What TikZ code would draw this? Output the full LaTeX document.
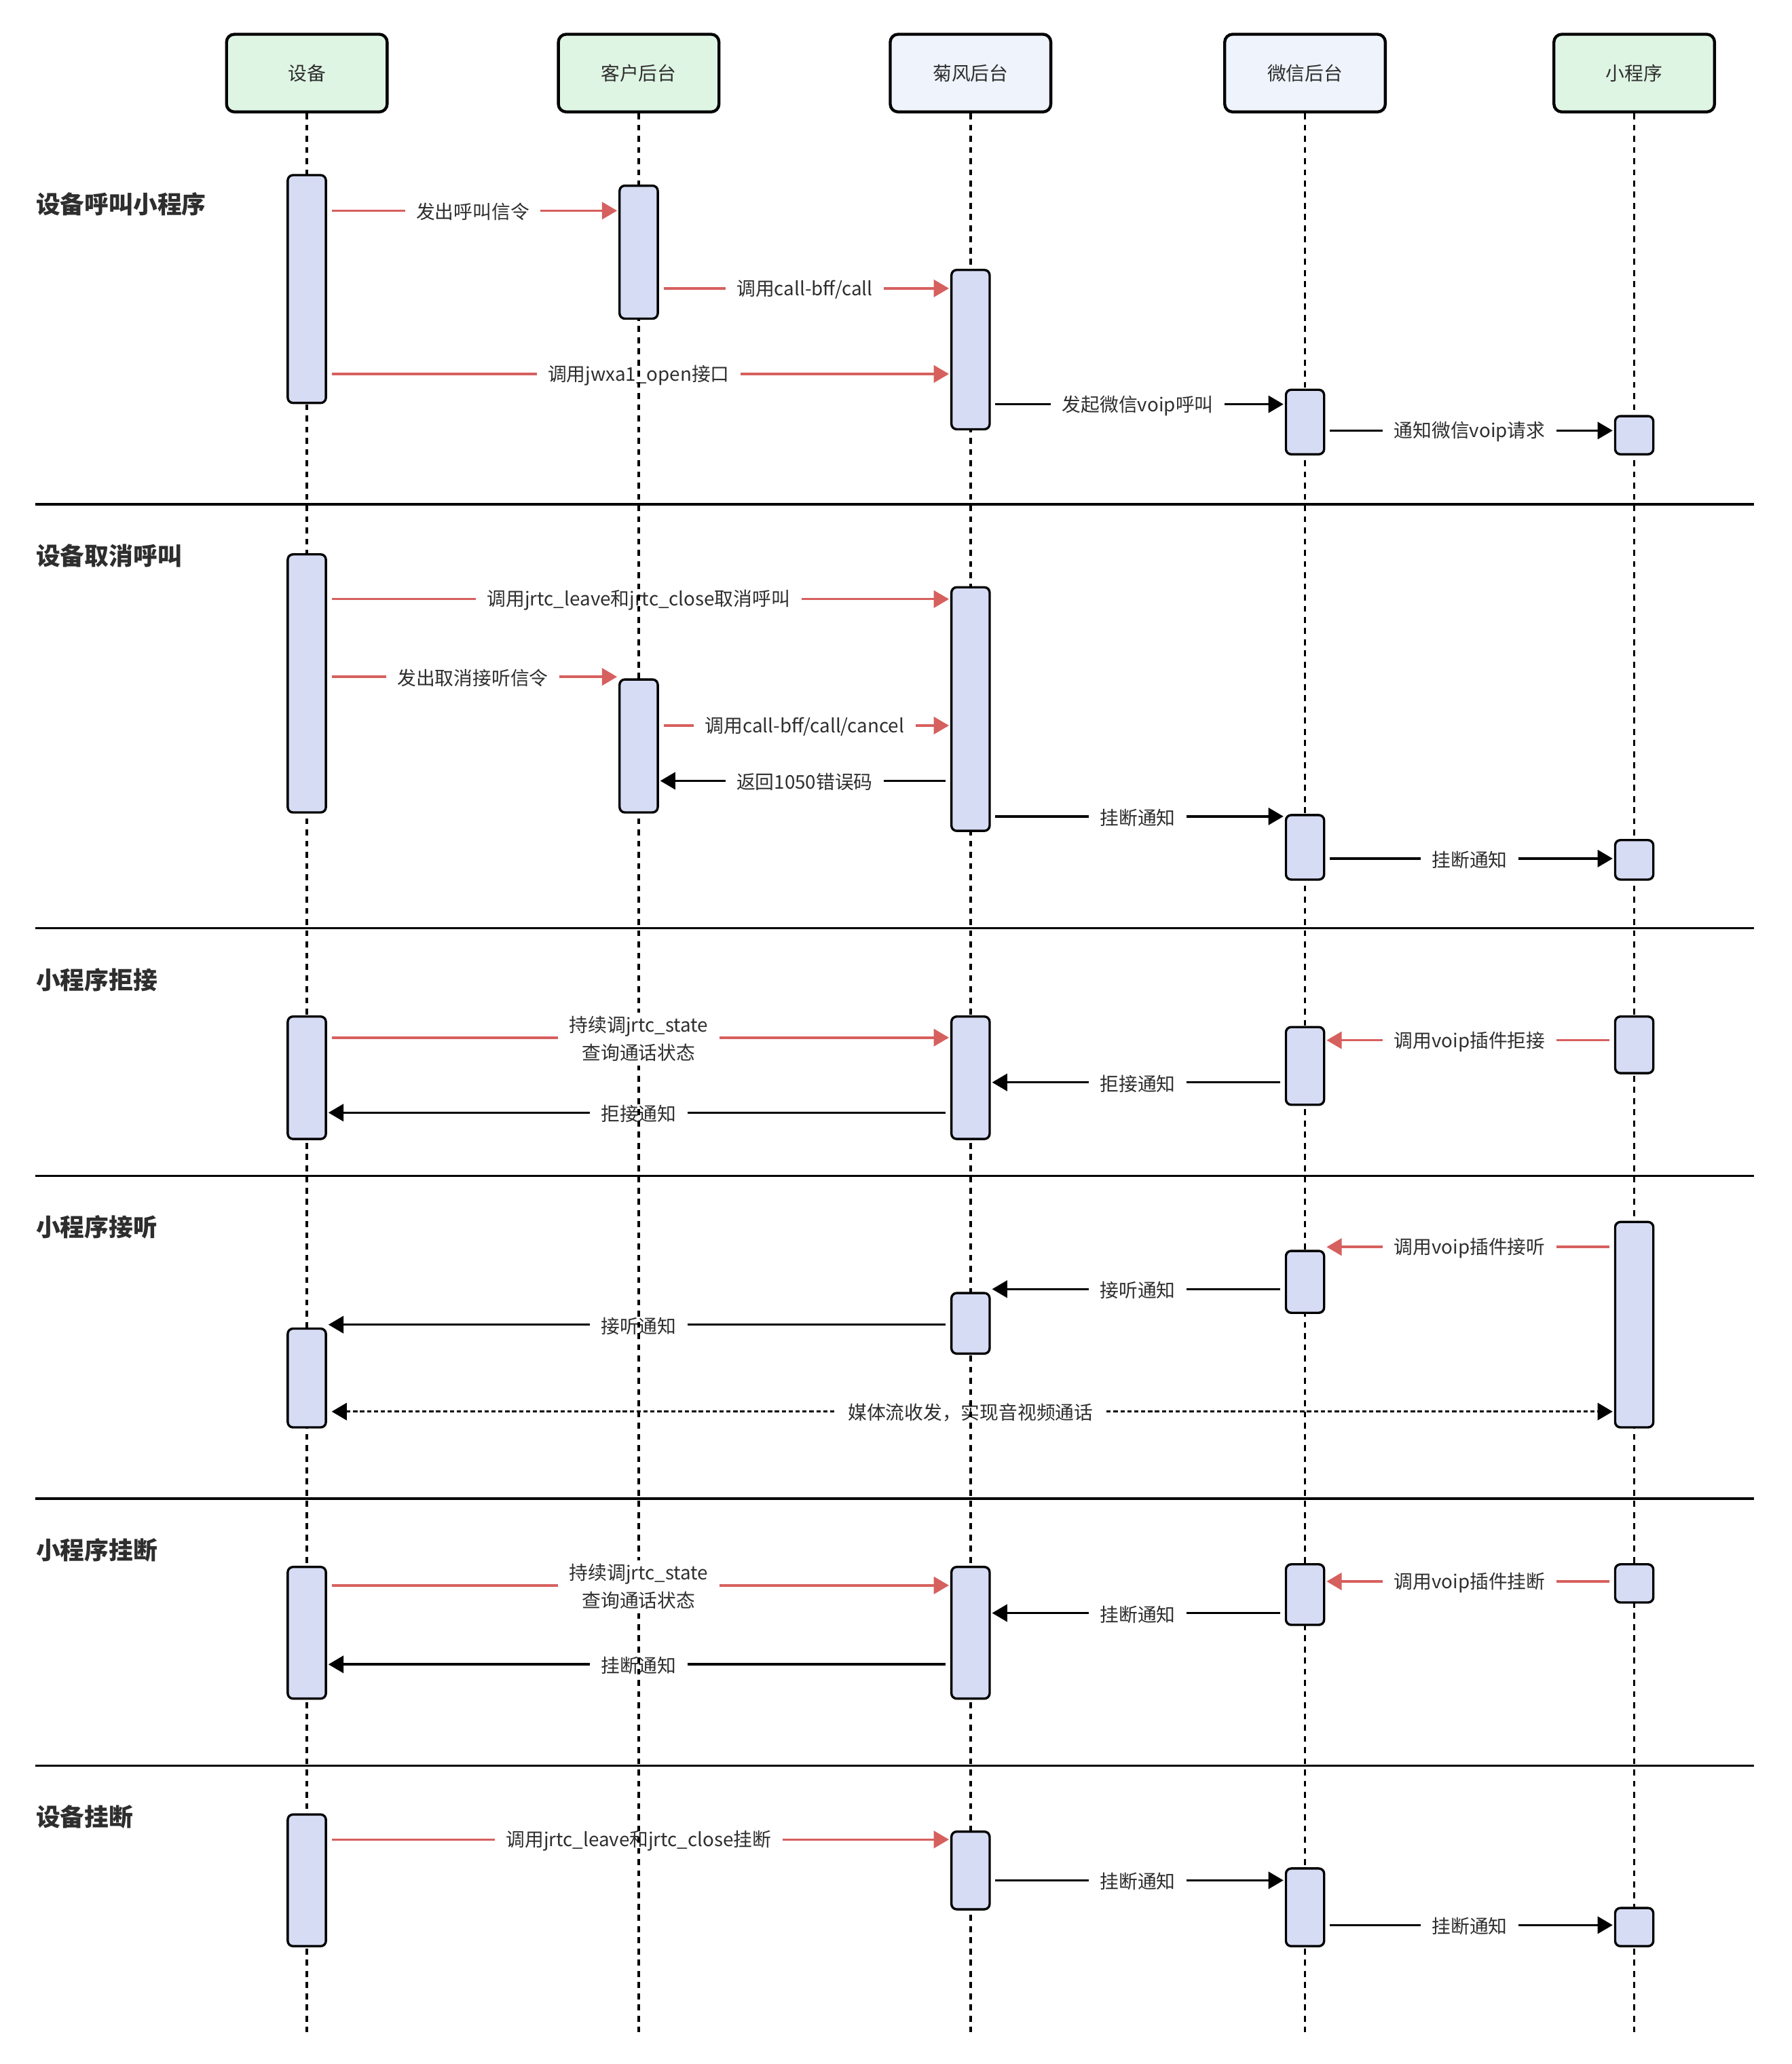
\documentclass[tikz,border=0pt]{standalone}
\usepackage{fontspec}
\setmainfont{Noto Sans CJK SC}
\usetikzlibrary{arrows.meta}
\usetikzlibrary{fit}
\pgfdeclarelayer{background}
\pgfdeclarelayer{foreground}
\pgfsetlayers{background,main,foreground}
\definecolor{headgreen}{HTML}{DFF5E4}
\definecolor{headblue}{HTML}{EEF3FC}
\definecolor{actblue}{HTML}{D6DCF4}
\definecolor{callred}{HTML}{D6605E}
\definecolor{textgray}{HTML}{2E2E2E}
\newcommand{\msgfont}{\fontsize{8.15pt}{12pt}\selectfont}
\newcommand{\secfont}{\fontsize{10.5pt}{13pt}\selectfont\bfseries}

\begin{document}
\begin{tikzpicture}
			[
				x = 0.02cm, y = -0.02cm,
				head/.style = {rectangle, minimum width = 2.44cm, minimum height = 1.18cm, rounded corners = 0.12cm, draw = black, line width = 0.045cm, font = \msgfont, text = textgray},
				act/.style = {rectangle, inner sep = 0pt, rounded corners = 0.08cm, draw = black, line width = 0.035cm, fill = actblue},
				life/.style = {line width = 0.036cm, dash pattern = on 0.09cm off 0.08cm},
				req/.style = {line width = 0.036cm, draw = callred, -{Triangle[length = 0.23cm, width = 0.26cm]}, shorten <= 0.07cm, shorten >= 0.02cm},
				ntf/.style = {req, draw = black},
				media/.style = {line width = 0.036cm, dash pattern = on 0.065cm off 0.04cm, {Triangle[length = 0.23cm, width = 0.26cm]}-{Triangle[length = 0.23cm, width = 0.26cm]}, shorten <= 0.07cm, shorten >= 0.02cm},
				lbl/.style = {fill = white, inner xsep = 0.17cm, inner ysep = 0.06cm, yshift = -0.02cm, font = \msgfont, text = textgray, align = center},
				sectitle/.style = {anchor = west, inner sep = 0pt, font = \secfont, text = textgray},
				sepline/.style = {line width = 0.036cm},
			]
			\useasboundingbox (0,0) rectangle (1360.3,1567.5);

			% participants
			\node (dev) [head, fill = headgreen] at (233,55.5) {设备};
			\node (cust) [head, fill = headgreen] at (485,55.5) {客户后台};
			\node (jf) [head, fill = headblue] at (737,55.5) {菊风后台};
			\node (wx) [head, fill = headblue] at (991,55.5) {微信后台};
			\node (mp) [head, fill = headgreen] at (1241,55.5) {小程序};

			\coordinate (devend) at (233,1543);
			\coordinate (custend) at (485,1543);
			\coordinate (jfend) at (737,1543);
			\coordinate (wxend) at (991,1543);
			\coordinate (mpend) at (1241,1543);
			\draw[life] (dev) -- (devend);
			\draw[life] (cust) -- (custend);
			\draw[life] (jf) -- (jfend);
			\draw[life] (wx) -- (wxend);
			\draw[life] (mp) -- (mpend);

			% section titles and separators
			\node (t1) [sectitle] at (27,155) {设备呼叫小程序};
			\node (t2) [sectitle] at (27,422) {设备取消呼叫};
			\node (t3) [sectitle] at (27,744) {小程序拒接};
			\node (t4) [sectitle] at (27,932) {小程序接听};
			\node (t5) [sectitle] at (27,1177) {小程序挂断};
			\node (t6) [sectitle] at (27,1380) {设备挂断};
			\begin{pgfonlayer}{background}
				\draw[sepline] (27,383) -- (1332,383);
				\draw[sepline] (27,705) -- (1332,705);
				\draw[sepline] (27,893) -- (1332,893);
				\draw[sepline] (27,1138) -- (1332,1138);
				\draw[sepline] (27,1341) -- (1332,1341);
			\end{pgfonlayer}

			% activations
			\begin{pgfonlayer}{foreground}
				\node (dev1) [act, fit = {(218.5,133) (247.5,306)}] {};
				\node (cust1) [act, fit = {(470.5,141) (499.5,242)}] {};
				\node (jf1) [act, fit = {(722.5,205) (751.5,326)}] {};
				\node (wx1) [act, fit = {(976.5,296) (1005.5,345)}] {};
				\node (mp1) [act, fit = {(1226.5,316) (1255.5,345)}] {};

				\node (dev2) [act, fit = {(218.5,421) (247.5,617)}] {};
				\node (jf2) [act, fit = {(722.5,446) (751.5,631)}] {};
				\node (cust2) [act, fit = {(470.5,516) (499.5,617)}] {};
				\node (wx2) [act, fit = {(976.5,619) (1005.5,668)}] {};
				\node (mp2) [act, fit = {(1226.5,638) (1255.5,668)}] {};

				\node (dev3) [act, fit = {(218.5,772) (247.5,865)}] {};
				\node (jf3) [act, fit = {(722.5,772) (751.5,865)}] {};
				\node (wx3) [act, fit = {(976.5,780) (1005.5,839)}] {};
				\node (mp3) [act, fit = {(1226.5,772) (1255.5,815)}] {};

				\node (mp4) [act, fit = {(1226.5,928) (1255.5,1084)}] {};
				\node (wx4) [act, fit = {(976.5,950) (1005.5,997)}] {};
				\node (jf4) [act, fit = {(722.5,982) (751.5,1028)}] {};
				\node (dev4) [act, fit = {(218.5,1009) (247.5,1084)}] {};

				\node (dev5) [act, fit = {(218.5,1190) (247.5,1290)}] {};
				\node (jf5) [act, fit = {(722.5,1190) (751.5,1290)}] {};
				\node (wx5) [act, fit = {(976.5,1188) (1005.5,1234)}] {};
				\node (mp5) [act, fit = {(1226.5,1188) (1255.5,1217)}] {};

				\node (dev6) [act, fit = {(218.5,1378) (247.5,1478)}] {};
				\node (jf6) [act, fit = {(722.5,1391) (751.5,1450)}] {};
				\node (wx6) [act, fit = {(976.5,1419) (1005.5,1478)}] {};
				\node (mp6) [act, fit = {(1226.5,1449) (1255.5,1478)}] {};

				% two-line labels hide the lifeline
				\draw[req] (dev3.east |- 0,788) -- node[lbl] {持续调jrtc\_state\\查询通话状态} (jf3.west |- 0,788);
				\draw[req] (dev5.east |- 0,1204) -- node[lbl] {持续调jrtc\_state\\查询通话状态} (jf5.west |- 0,1204);
			\end{pgfonlayer}

			% messages
			\begin{pgfonlayer}{background}
				\draw[req] (dev1.east |- 0,160) -- node[lbl] {发出呼叫信令} (cust1.west |- 0,160);
				\draw[req] (cust1.east |- 0,219) -- node[lbl] {调用call-bff/call} (jf1.west |- 0,219);
				\draw[req] (dev1.east |- 0,284) -- node[lbl] {调用jwxa1\_open接口} (jf1.west |- 0,284);
				\draw[ntf] (jf1.east |- 0,307) -- node[lbl] {发起微信voip呼叫} (wx1.west |- 0,307);
				\draw[ntf] (wx1.east |- 0,327) -- node[lbl] {通知微信voip请求} (mp1.west |- 0,327);

				\draw[req] (dev2.east |- 0,455) -- node[lbl] {调用jrtc\_leave和jrtc\_close取消呼叫} (jf2.west |- 0,455);
				\draw[req] (dev2.east |- 0,514) -- node[lbl] {发出取消接听信令} (cust2.west |- 0,514);
				\draw[req] (cust2.east |- 0,551) -- node[lbl] {调用call-bff/call/cancel} (jf2.west |- 0,551);
				\draw[ntf] (jf2.west |- 0,593) -- node[lbl] {返回1050错误码} (cust2.east |- 0,593);
				\draw[ntf] (jf2.east |- 0,620) -- node[lbl] {挂断通知} (wx2.west |- 0,620);
				\draw[ntf] (wx2.east |- 0,652) -- node[lbl] {挂断通知} (mp2.west |- 0,652);

				\draw[req] (mp3.west |- 0,790) -- node[lbl] {调用voip插件拒接} (wx3.east |- 0,790);
				\draw[ntf] (wx3.west |- 0,822) -- node[lbl] {拒接通知} (jf3.east |- 0,822);
				\draw[ntf] (jf3.west |- 0,845) -- node[lbl] {拒接通知} (dev3.east |- 0,845);

				\draw[req] (mp4.west |- 0,947) -- node[lbl] {调用voip插件接听} (wx4.east |- 0,947);
				\draw[ntf] (wx4.west |- 0,979) -- node[lbl] {接听通知} (jf4.east |- 0,979);
				\draw[ntf] (jf4.west |- 0,1006) -- node[lbl] {接听通知} (dev4.east |- 0,1006);
				\draw[media] (dev4.east |- 0,1072) -- node[lbl] {媒体流收发，实现音视频通话} (mp4.west |- 0,1072);

				\draw[req] (mp5.west |- 0,1201) -- node[lbl] {调用voip插件挂断} (wx5.east |- 0,1201);
				\draw[ntf] (wx5.west |- 0,1225) -- node[lbl] {挂断通知} (jf5.east |- 0,1225);
				\draw[ntf] (jf5.west |- 0,1264) -- node[lbl] {挂断通知} (dev5.east |- 0,1264);

				\draw[req] (dev6.east |- 0,1397) -- node[lbl] {调用jrtc\_leave和jrtc\_close挂断} (jf6.west |- 0,1397);
				\draw[ntf] (jf6.east |- 0,1428) -- node[lbl] {挂断通知} (wx6.west |- 0,1428);
				\draw[ntf] (wx6.east |- 0,1462) -- node[lbl] {挂断通知} (mp6.west |- 0,1462);
			\end{pgfonlayer}
		\end{tikzpicture}
\end{document}
